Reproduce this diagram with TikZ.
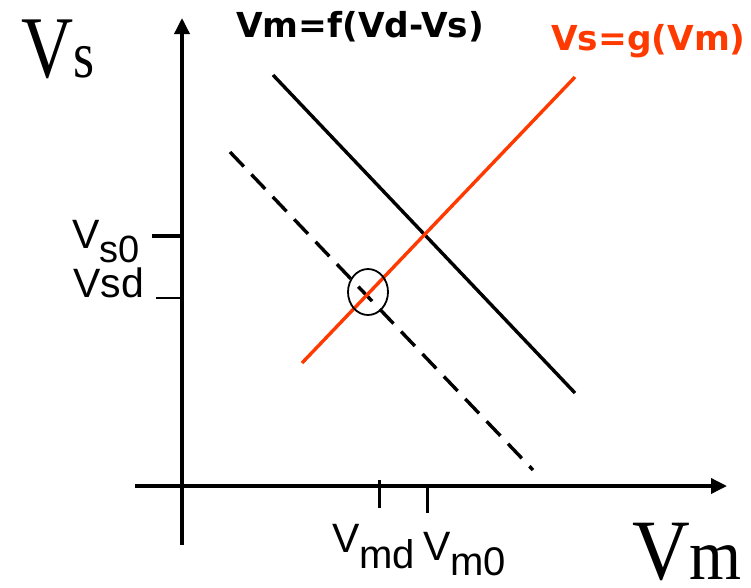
\documentclass[tikz,border=0pt]{standalone}
\usepackage{fontspec}
\setmainfont{Liberation Serif}
\setsansfont{Liberation Sans}
\newfontfamily\headfont{DejaVu Sans}
\usetikzlibrary{arrows.meta}
\definecolor{vsred}{HTML}{FF3A00}

\begin{document}
\begin{tikzpicture}[x=1pt,y=-1pt,>={Triangle[length=16pt,width=15pt]},
  axis/.style={line width=3.5pt},
  curve/.style={line width=3.4pt},
  lbl/.style={inner sep=0pt,anchor=base west,font=\sffamily\fontsize{41}{41}\selectfont},
  head/.style={inner sep=0pt,anchor=base west,font=\headfont\bfseries\fontsize{34.4}{35}\selectfont},
  big/.style={inner sep=0pt,anchor=base west,font=\rmfamily}]
\useasboundingbox (0,0) rectangle (751,587);
% axes and ticks
\draw[axis,->] (182,545) -- (182,18);
\draw[axis,->] (135,486) -- (727,486);
\draw[line width=3.5pt] (152,236) -- (182,236);
\draw[line width=2pt] (156,298) -- (182,298);
\draw[line width=3pt] (379,480) -- (379,508);
\draw[line width=3pt] (427,486) -- (427,513);
% characteristics
\coordinate (f1) at (273,75);
\coordinate (f2) at (575,393);
\coordinate (d1) at (230,152);
\coordinate (d2) at (533,470);
\coordinate (g1) at (302,363);
\coordinate (g2) at (575,77);
\draw[curve] (f1) -- (f2);
\draw[curve,dash pattern=on 20pt off 11pt] (d1) -- (d2);
\draw[curve,vsred] (g1) -- (g2);
\draw[line width=1.8pt] (368,292) ellipse [x radius=20, y radius=23];
% labels
\node[head] (fm) at (236,37) {Vm=f(Vd-Vs)};
\node[head,text=vsred] (gm) at (551,50) {Vs=g(Vm)};
\node[big,xscale=.82] (vs) at (21,77) {\fontsize{88}{88}\selectfont V\fontsize{66}{66}\selectfont s};
\node[big,xscale=.93] (vm) at (632,579) {\fontsize{86}{86}\selectfont V\fontsize{72}{72}\selectfont m};
\node[lbl] (vs0) at (72,248) {V\raisebox{-14pt}{\fontsize{38}{38}\selectfont s0}};
\node[lbl] (vsd) at (73,297) {Vsd};
\node[lbl] (vmd) at (332,552) {V\raisebox{-16pt}{\fontsize{40}{40}\selectfont md}};
\node[lbl] (vm0) at (423,560) {V\raisebox{-15pt}{\fontsize{40}{40}\selectfont m0}};
\end{tikzpicture}
\end{document}
